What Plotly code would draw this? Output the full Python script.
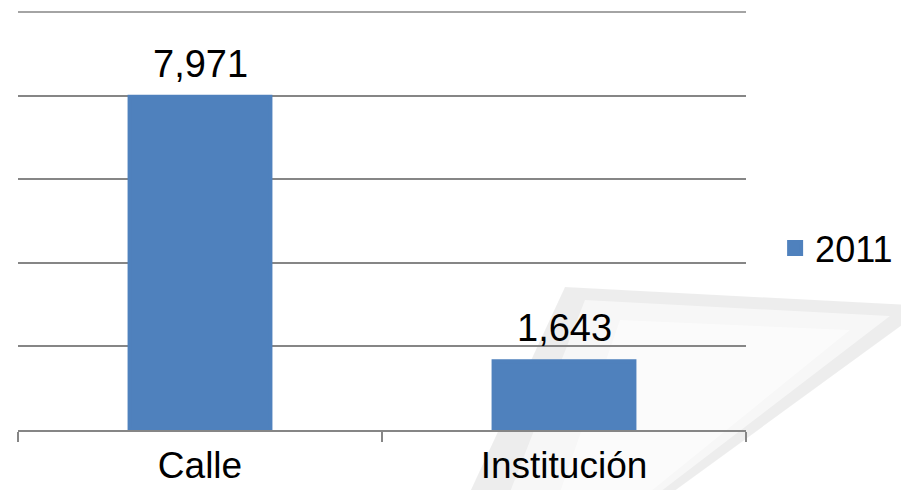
import plotly.graph_objects as go

categories = ["Calle", "Institución"]
values_2011 = [7971, 1643]
value_labels = ["7,971", "1,643"]
series_name = "2011"

FONT = "Liberation Sans, Arial"
BLUE = "#4F81BD"
GRID = "#868686"

fig = go.Figure()
fig.add_trace(go.Bar(
    x=categories, y=values_2011, name=series_name,
    marker=dict(color=BLUE, line=dict(width=4, color=BLUE)),
))

for c, v, t in zip(categories, values_2011, value_labels):
    fig.add_annotation(x=c, y=v, text=t, showarrow=False, yanchor="bottom",
                       yshift=10, font=dict(family=FONT, size=38, color="#000000"))

def pp(sx, sy):
    return (sx - 18) / 728, (430 - sy) / 418

def path(points):
    pts = [pp(*p) for p in points]
    return "M " + " L ".join(f"{x:.4f} {y:.4f}" for x, y in pts) + " Z"

# page-curl decoration in the background
fig.add_shape(type="path", xref="paper", yref="paper", layer="below",
              path=path([(565, 287), (909, 305), (909, 320), (673, 492), (470, 492)]),
              fillcolor="rgba(0,0,0,0.07)", line=dict(width=0))
fig.add_shape(type="path", xref="paper", yref="paper", layer="below",
              path=path([(585, 300), (890, 316), (660, 492), (510, 492)]),
              fillcolor="rgba(255,255,255,0.55)", line=dict(width=0))
fig.add_shape(type="path", xref="paper", yref="paper", layer="below",
              path=path([(620, 320), (850, 330), (650, 492), (560, 492)]),
              fillcolor="rgba(255,255,255,0.5)", line=dict(width=0))

# top gridline of the value axis
fig.add_shape(type="line", xref="paper", yref="paper", x0=0, x1=1, y0=1, y1=1,
              line=dict(color=GRID, width=1.5), layer="below")

fig.update_layout(
    width=909, height=490,
    margin=dict(l=10, r=171, t=4, b=68),
    paper_bgcolor="white", plot_bgcolor="rgba(0,0,0,0)",
    bargap=0.613,
    font=dict(family=FONT, size=38, color="#000000"),
    showlegend=True,
    legend=dict(x=1.04, y=0.435, xanchor="left", yanchor="middle",
                font=dict(size=36), bgcolor="rgba(0,0,0,0)"),
    xaxis=dict(showline=True, linecolor=GRID, linewidth=1.5,
               ticks="outside", tickson="boundaries", ticklen=10,
               tickcolor=GRID, tickwidth=1.5, ticklabelstandoff=2,
               tickfont=dict(size=37), showgrid=False),
    yaxis=dict(range=[0, 10000], dtick=2000, showticklabels=False,
               showgrid=True, gridcolor=GRID, gridwidth=1.5,
               zeroline=False, showline=False, ticks=""),
)

fig.write_html("out.html")
